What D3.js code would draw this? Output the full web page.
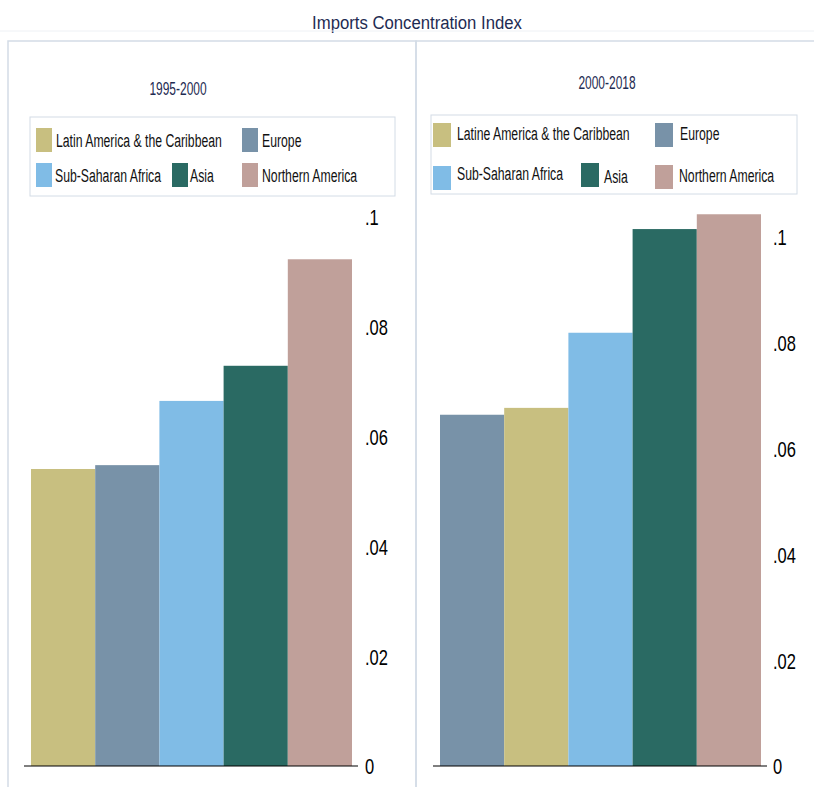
<!DOCTYPE html>
<html>
<head>
<meta charset="utf-8">
<script src="https://cdn.jsdelivr.net/npm/d3@7"></script>
<style>
  body { margin: 0; background: #fff; }
  text { font-family: "Liberation Sans", Arial, sans-serif; }
</style>
</head>
<body>
<script>
// chart data
const chartTitle = "Imports Concentration Index";
const panelTitles = ["1995-2000", "2000-2018"];
const regions = ["Latin America & the Caribbean", "Europe", "Sub-Saharan Africa", "Asia", "Northern America"];
const regionColors = ["#c8bf80", "#7892a8", "#80bce6", "#2a6a63", "#c0a09a"];
// bar order (index into regions) and values, per period
const order1995 = [0, 1, 2, 3, 4];
const values1995 = [0.0541, 0.0548, 0.0665, 0.0729, 0.0923];
const order2000 = [1, 0, 2, 3, 4];
const values2000 = [0.0664, 0.0677, 0.0819, 0.1015, 0.1043];
// legend labels as printed (right panel has a typo in the original)
const legend1995 = ["Latin America & the Caribbean", "Europe", "Sub-Saharan Africa", "Asia", "Northern America"];
const legend2000 = ["Latine America & the Caribbean", "Europe", "Sub-Saharan Africa", "Asia", "Northern America"];
const yTicks = [0, 0.02, 0.04, 0.06, 0.08, 0.1];

const canvWidth = 814, canvHeight = 787;
const svg = d3.select("body").append("svg")
    .attr("width", canvWidth)
    .attr("height", canvHeight);

// the original picture is squeezed horizontally, so text gets a narrow x-scale
function addText(parent, x, y, sx, size, txt) {
    return parent.append("text")
        .attr("transform", "translate(" + x + "," + y + ") scale(" + sx + ",1)")
        .attr("font-size", size + "px")
        .text(txt);
}

// main title
addText(svg, 417, 29, 0.88, 19, chartTitle)
    .attr("text-anchor", "middle")
    .attr("fill", "#1e2b52");

svg.append("line")
    .attr("x1", 0).attr("x2", canvWidth)
    .attr("y1", 31).attr("y2", 31)
    .attr("stroke", "#eef1f5");

// panel layout
const panels = [
    {title: panelTitles[0], order: order1995, values: values1995, labels: legend1995,
     frame: [8, 41, 408], subX: 178, subY: 95,
     legBox: [30, 117, 365, 79],
     swX: [36, 242, 36, 172, 242], swY: [128, 128, 163, 163, 163], sw: 16,
     txX: [56, 262, 55, 190, 262], txY: [146.5, 146.5, 181.5, 181.5, 181.5],
     xRange: [31, 352], yRange: [766, 217], baseX: [24, 358], tickX: 365},
    {title: panelTitles[1], order: order2000, values: values2000, labels: legend2000,
     frame: [416, 41, 420], subX: 607, subY: 89,
     legBox: [431, 115, 366, 79],
     swX: [433, 655, 433, 581, 655], swY: [123, 123, 166, 163, 165], sw: 18,
     txX: [457, 680, 457, 604, 679], txY: [140, 140, 180, 183, 182],
     xRange: [440, 761], yRange: [766, 237], baseX: [433, 767], tickX: 773}
];

panels.forEach(function(p) {
    const g = svg.append("g");

    // panel frame
    g.append("rect")
        .attr("x", p.frame[0])
        .attr("y", p.frame[1])
        .attr("width", p.frame[2])
        .attr("height", canvHeight)
        .attr("fill", "none")
        .attr("stroke", "#d3dce6")
        .attr("stroke-width", 1.5);

    // subtitle
    addText(g, p.subX, p.subY, 0.63, 19, p.title)
        .attr("text-anchor", "middle")
        .attr("fill", "#1e2b52");

    // legend box
    g.append("rect")
        .attr("x", p.legBox[0])
        .attr("y", p.legBox[1])
        .attr("width", p.legBox[2])
        .attr("height", p.legBox[3])
        .attr("fill", "#fff")
        .attr("stroke", "#d3dce6");

    const legData = regions.map((r, i) => ({i: i, label: p.labels[i]}));

    g.selectAll(".leg-key")
        .data(legData)
        .enter().append("rect")
        .attr("class", "leg-key")
        .attr("x", d => p.swX[d.i])
        .attr("y", d => p.swY[d.i])
        .attr("width", p.sw)
        .attr("height", 24)
        .attr("fill", d => regionColors[d.i]);

    g.selectAll(".leg-text")
        .data(legData)
        .enter().append("text")
        .attr("class", "leg-text")
        .attr("transform", d => "translate(" + p.txX[d.i] + "," + p.txY[d.i] + ") scale(0.68,1)")
        .attr("font-size", "18px")
        .attr("fill", "#111")
        .text(d => d.label);

    // scales
    const xScale = d3.scaleBand()
        .domain(p.order)
        .range(p.xRange)
        .padding(0);
    const yScale = d3.scaleLinear()
        .domain([0, 0.1])
        .range(p.yRange);

    // bars
    g.selectAll(".bar")
        .data(p.order.map((r, k) => ({r: r, v: p.values[k]})))
        .enter().append("rect")
        .attr("class", "bar")
        .attr("x", d => xScale(d.r))
        .attr("width", xScale.bandwidth())
        .attr("y", d => yScale(d.v))
        .attr("height", d => yScale(0) - yScale(d.v))
        .attr("fill", d => regionColors[d.r]);

    // baseline
    g.append("line")
        .attr("x1", p.baseX[0]).attr("x2", p.baseX[1])
        .attr("y1", yScale(0)).attr("y2", yScale(0))
        .attr("stroke", "#000")
        .attr("stroke-width", 1.2);

    // y axis on the right
    const yAxis = d3.axisRight(yScale)
        .tickValues(yTicks)
        .tickSize(0)
        .tickPadding(0)
        .tickFormat(d => d === 0 ? "0" : d3.format(".2~f")(d).replace(/^0/, ""));
    const ax = g.append("g")
        .attr("transform", "translate(" + p.tickX + ",0)")
        .call(yAxis);
    ax.select(".domain").remove();
    ax.selectAll("text")
        .attr("transform", "scale(0.75,1)")
        .attr("dy", "0.36em")
        .attr("font-family", "'Liberation Sans', Arial, sans-serif")
        .attr("font-size", "22px")
        .attr("fill", "#000");
});
</script>
</body>
</html>
